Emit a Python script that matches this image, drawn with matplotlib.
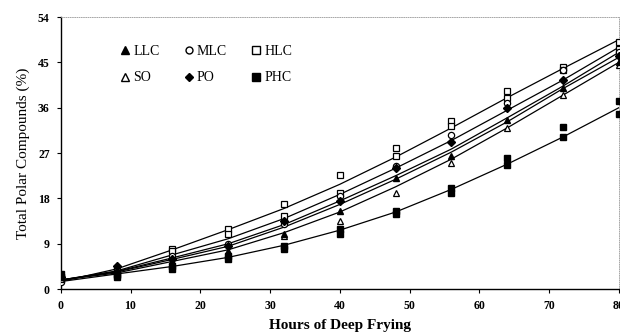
import matplotlib
matplotlib.use("Agg")
import matplotlib.pyplot as plt
from matplotlib.lines import Line2D

# Hours of frying
hours = [0, 8, 16, 24, 32, 40, 48, 56, 64, 72, 80]

# Measured total polar compounds (%), two readings where visible
llc = [2.5, 4.0, 5.5, 7.5, 11.0, 15.5, 22.0, 26.5, 33.5, 40.0, 45.0]
mlc = [1.5, 4.0, 6.5, 9.0, 13.0, 18.5, 24.5, 30.5, 37.0, 43.5, 47.0]
hlc_a = [2.5, 3.5, 8.0, 12.0, 16.8, 22.6, 28.1, 33.3, 39.3, 44.0, 49.0]
hlc_b = [2.0, 3.0, 7.5, 11.0, 14.5, 19.0, 26.4, 32.3, 38.0, 43.5, 47.6]
so = [2.0, 3.5, 5.0, 7.0, 10.5, 13.5, 19.0, 25.0, 32.0, 38.5, 44.5]
po = [2.5, 4.5, 6.0, 8.5, 13.5, 17.5, 24.0, 29.3, 36.0, 41.6, 46.3]
phc_a = [3.0, 2.5, 4.5, 6.5, 8.5, 12.0, 15.5, 20.0, 26.1, 32.1, 37.3]
phc_b = [2.5, 2.8, 4.0, 6.0, 8.0, 11.0, 15.0, 19.0, 24.7, 30.1, 34.7]

# Trend lines
hlc_line = [1.5, 4.0, 7.8, 11.8, 16.0, 20.8, 26.2, 32.0, 38.0, 43.8, 49.5]
mlc_line = [1.8, 3.6, 6.8, 10.0, 14.0, 18.8, 24.0, 29.5, 35.5, 41.5, 48.0]
po_line = [1.8, 3.5, 6.2, 9.0, 12.8, 17.5, 22.5, 27.8, 34.0, 40.3, 47.0]
llc_line = [1.8, 3.4, 5.9, 8.5, 12.3, 16.8, 21.8, 27.2, 33.2, 39.8, 46.0]
so_line = [1.8, 3.2, 5.5, 7.8, 11.2, 15.3, 20.3, 25.8, 32.0, 38.5, 45.0]
phc_line = [1.5, 3.0, 4.5, 6.3, 8.7, 11.7, 15.3, 19.8, 24.8, 30.2, 36.0]

plt.rcParams['font.family'] = ['Liberation Serif', 'DejaVu Serif']

fig = plt.figure(figsize=(6.2, 3.35), dpi=100)
ax = fig.add_axes([0.098, 0.137, 0.9, 0.812])

for line in [hlc_line, mlc_line, po_line, llc_line, so_line, phc_line]:
    ax.plot(hours, line, color='black', lw=0.9, zorder=2)

ms = 5
ax.plot(hours, hlc_a, 's', mfc='white', mec='black', mew=0.9, ms=ms, zorder=3)
ax.plot(hours, hlc_b, 's', mfc='white', mec='black', mew=0.9, ms=ms, zorder=3)
ax.plot(hours, mlc, 'o', mfc='white', mec='black', mew=0.9, ms=ms - 0.5, zorder=3)
ax.plot(hours, po, 'D', color='black', ms=ms - 1, zorder=3)
ax.plot(hours, so, '^', mfc='white', mec='black', mew=0.9, ms=ms, zorder=3)
ax.plot(hours, llc, '^', color='black', ms=ms, zorder=3)
ax.plot(hours, phc_a, 's', color='black', ms=ms, zorder=3)
ax.plot(hours, phc_b, 's', color='black', ms=ms, zorder=3)

ax.set_xlim(0, 80)
ax.set_ylim(0, 54)
ax.set_xticks(range(0, 81, 10))
ax.set_yticks(range(0, 55, 9))
ax.tick_params(direction='out', length=3, width=0.8, labelsize=8.5, pad=5)
for lab in ax.get_xticklabels() + ax.get_yticklabels():
    lab.set_fontweight('bold')

for s in ['top', 'right']:
    ax.spines[s].set_color('#999999')
    ax.spines[s].set_linewidth(0.6)
    ax.spines[s].set_linestyle(':')
for s in ['left', 'bottom']:
    ax.spines[s].set_linewidth(1.0)

ax.set_xlabel('Hours of Deep Frying', fontsize=11, fontweight='bold', labelpad=5)
ax.set_ylabel('Total Polar Compounds (%)', fontsize=11, labelpad=6)

handles = [
    Line2D([], [], ls='', marker='^', color='black', ms=6),
    Line2D([], [], ls='', marker='^', mfc='white', mec='black', ms=6),
    Line2D([], [], ls='', marker='o', mfc='white', mec='black', ms=5),
    Line2D([], [], ls='', marker='D', color='black', ms=4.5),
    Line2D([], [], ls='', marker='s', mfc='white', mec='black', ms=5.5),
    Line2D([], [], ls='', marker='s', color='black', ms=5.5),
]
labels = ['LLC', 'SO', 'MLC', 'PO', 'HLC', 'PHC']
ax.legend(handles, labels, ncol=3, frameon=False, loc='upper left',
          bbox_to_anchor=(0.08, 0.945), handletextpad=0.1, columnspacing=1.6,
          labelspacing=1.0, handlelength=1.0, fontsize=10)

fig.savefig('out.png', dpi=100)
